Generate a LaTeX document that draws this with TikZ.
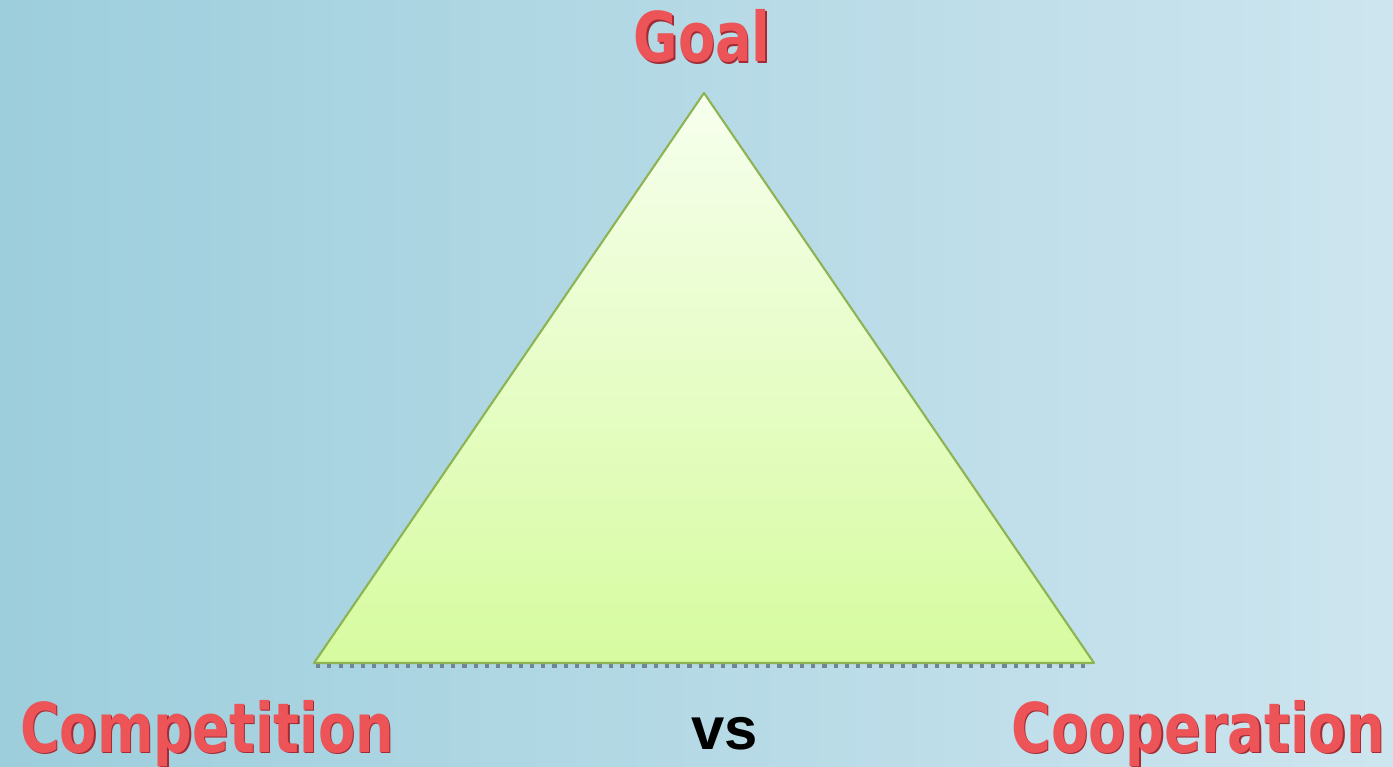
\documentclass[tikz,border=0pt]{standalone}
\usepackage{fontspec}
\usepackage{xcolor}
\usepackage{tikz}
\usetikzlibrary{calc}
\usetikzlibrary{positioning}

\newfontfamily\labelfont[FakeStretch=0.79]{DejaVu Sans}
\newfontfamily\vsfont{Liberation Sans}

\definecolor{bgleft}{HTML}{9DCEDC}
\definecolor{bgright}{HTML}{CDE5EF}
\definecolor{tritop}{HTML}{F7FFEE}
\definecolor{tribottom}{HTML}{D6FB9F}
\definecolor{triedge}{HTML}{8DB452}
\definecolor{baseshade}{HTML}{6F8594}
\definecolor{labelred}{HTML}{EC5458}
\definecolor{labeldark}{HTML}{A02C36}

\tikzset{
  vertexlabel/.style={font=\labelfont\bfseries\fontsize{19.5}{24}\selectfont, text=labelred, inner sep=0pt, anchor=base},
  labelrim/.style={vertexlabel, text=labeldark},
  vslabel/.style={font=\vsfont\bfseries\fontsize{17}{21}\selectfont, text=black, inner sep=0pt, anchor=base},
}

\begin{document}
\begin{tikzpicture}[x=0.01cm,y=-0.01cm]
            % background
            \shade[left color=bgleft, right color=bgright] (0,0) rectangle (1393,767);
            \useasboundingbox (0,0) rectangle (1393,767);
            \coordinate (apex) at (704,93);
            \coordinate (baseL) at (314,663);
            \coordinate (baseR) at (1094,663);
            \draw[baseshade, line width=1.2pt, dotted] ($(baseL)+(2,3)$) -- ($(baseR)+(-2,3)$);
            \shade[top color=tritop, bottom color=tribottom, draw=triedge, line width=0.6pt, line join=round]
                (apex) -- (baseR) -- (baseL) -- cycle;
            % labels
            \node[labelrim] (goalrim) at (703.5,63.5) {Goal};
            \node[vertexlabel] (goal) at (702,62) {Goal};
            \node[labelrim] (comprim) at (208.5,753.5) {Competition};
            \node[vertexlabel] (comp) at (207,752) {Competition};
            \node[labelrim] (cooprim) at (1199.5,753.5) {Cooperation};
            \node[vertexlabel] (coop) at (1198,752) {Cooperation};
            \node[vslabel] (vs) at (725,749) {vs};
        \end{tikzpicture}
\end{document}
